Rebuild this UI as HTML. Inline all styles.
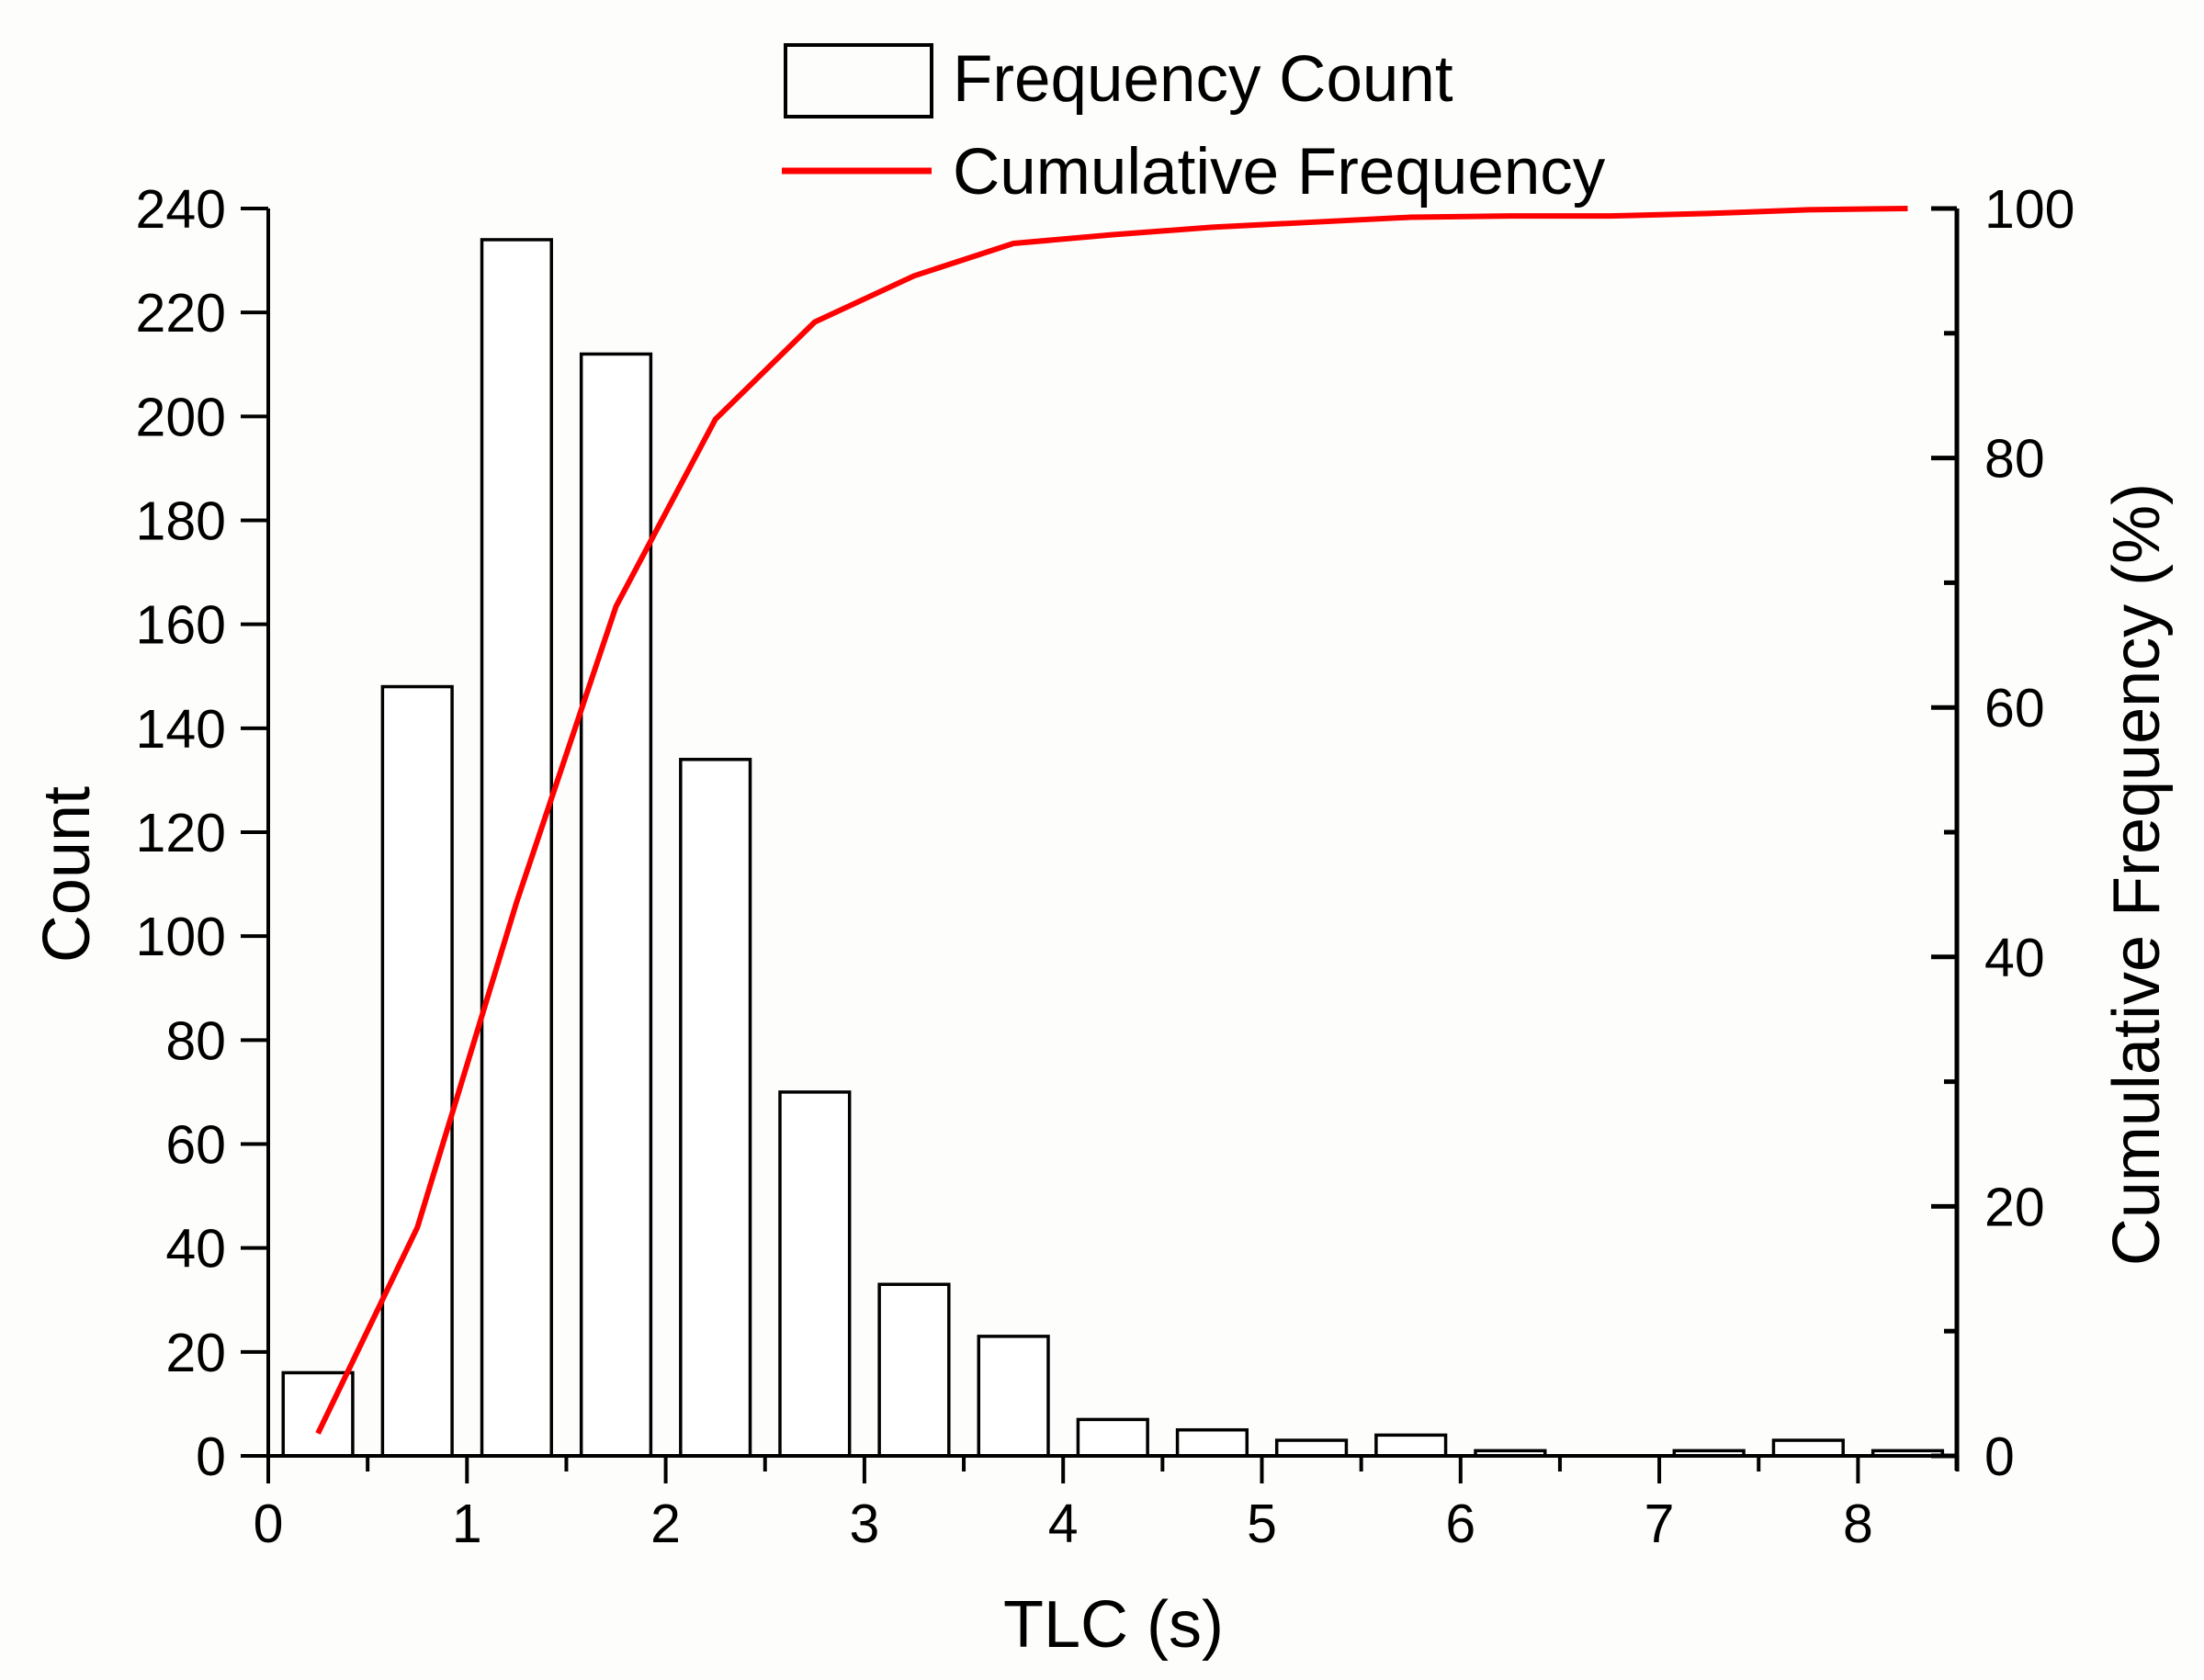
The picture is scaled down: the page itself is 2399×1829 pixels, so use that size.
<!DOCTYPE html>
<html><head><meta charset="utf-8"><style>
html,body{margin:0;padding:0;background:#fdfdfb;}
svg{display:block;font-family:"Liberation Sans",Arial,sans-serif;}
</style></head><body>
<svg id="chart" width="2399" height="1829" viewBox="0 0 2399 1829" xmlns="http://www.w3.org/2000/svg">
<rect width="2399" height="1829" fill="#fdfdfb"/>
<g id="bars"></g>
<g id="axes"></g>
<polyline id="cum" fill="none" stroke="#ff0000" stroke-width="6" stroke-linejoin="round"/>
<g>
<rect x="855" y="49" width="159" height="78" fill="none" stroke="#000" stroke-width="4"/>
<text x="1037" y="110" font-size="71">Frequency Count</text>
<line x1="851" y1="186" x2="1014" y2="186" stroke="#ff0000" stroke-width="7"/>
<text x="1037" y="211" font-size="71">Cumulative Frequency</text>
</g>
<text x="1212" y="1793" font-size="72" text-anchor="middle">TLC (s)</text>
<text transform="translate(97,952) rotate(-90)" font-size="72" text-anchor="middle">Count</text>
<text transform="translate(2350,952) rotate(-90)" font-size="72" text-anchor="middle">Cumulative Frequency (%)</text>
</svg>
<script>
const binCenters=[0.25,0.75,1.25,1.75,2.25,2.75,3.25,3.75,4.25,4.75,5.25,5.75,6.25,6.75,7.25,7.75,8.25];
const counts=[16,148,234,212,134,70,33,23,7,5,3,4,1,0,1,3,1];
const cumPercent=[1.8,18.3,44.4,68.1,83.1,90.9,94.6,97.2,97.9,98.5,98.9,99.3,99.4,99.4,99.6,99.9,100];
const xTicks=[0,1,2,3,4,5,6,7,8];
const yTicks=[0,20,40,60,80,100,120,140,160,180,200,220,240];
const y2Ticks=[0,20,40,60,80,100];
const NS="http://www.w3.org/2000/svg";
const X0=292,XU=216.3,Y0=1585,YTOP=227,RX=2130;
const xs=v=>X0+v*XU;
const ys=v=>Y0-v/240*(Y0-YTOP);
const y2s=v=>Y0-v/100*(Y0-YTOP);
function mk(tag,attrs,parent,txt){const e=document.createElementNS(NS,tag);for(const k in attrs)e.setAttribute(k,attrs[k]);if(txt!==undefined)e.textContent=txt;parent.appendChild(e);return e;}
const bars=document.getElementById('bars'),axes=document.getElementById('axes');
const bw=0.35;
binCenters.forEach((c,i)=>{
  if(counts[i]<=0)return;
  const r=mk('rect',{x:xs(c-bw/2),y:ys(counts[i]),width:bw*XU,height:Y0-ys(counts[i]),fill:'#fff',stroke:'#000','stroke-width':3.5},bars);
  
  
});
let l=mk('line',{x1:X0,y1:YTOP,x2:X0,y2:Y0+30,stroke:'#000','stroke-width':4},axes);

l=mk('line',{x1:X0-30,y1:Y0,x2:RX,y2:Y0,stroke:'#000','stroke-width':4},axes);

l=mk('line',{x1:RX,y1:YTOP,x2:RX,y2:Y0+16,stroke:'#000','stroke-width':5},axes);

xTicks.forEach(v=>{
  mk('line',{x1:xs(v),y1:Y0,x2:xs(v),y2:Y0+30,stroke:'#000','stroke-width':4},axes);
  mk('line',{x1:xs(v+0.5),y1:Y0,x2:xs(v+0.5),y2:Y0+17,stroke:'#000','stroke-width':4},axes);
  const t=mk('text',{x:xs(v),y:1679,'font-size':59,'text-anchor':'middle'},axes,String(v));
  
});
yTicks.forEach(v=>{
  mk('line',{x1:X0-30,y1:ys(v),x2:X0,y2:ys(v),stroke:'#000','stroke-width':4},axes);
  const t=mk('text',{x:246,y:ys(v)+21,'font-size':59,'text-anchor':'end'},axes,String(v));
  
});
y2Ticks.forEach(v=>{
  mk('line',{x1:RX-28,y1:y2s(v),x2:RX,y2:y2s(v),stroke:'#000','stroke-width':5},axes);
  if(v<100)mk('line',{x1:RX-14,y1:y2s(v+10),x2:RX,y2:y2s(v+10),stroke:'#000','stroke-width':5},axes);
  const t=mk('text',{x:2160,y:y2s(v)+21,'font-size':59},axes,String(v));
  
});
document.getElementById('cum').setAttribute('points',binCenters.map((c,i)=>xs(c)+','+y2s(cumPercent[i])).join(' '));
</script>
</body></html>
